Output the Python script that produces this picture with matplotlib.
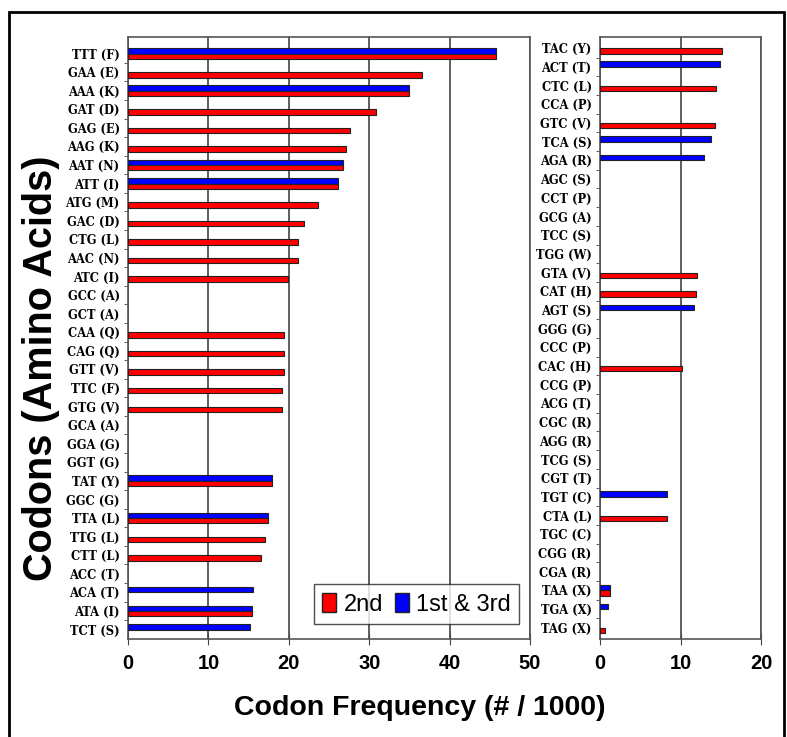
import numpy as np
import matplotlib.pyplot as plt
from matplotlib.patches import Rectangle, Patch

# codon frequency (# / 1000); None = no bar drawn
left_codons = ['TTT (F)', 'GAA (E)', 'AAA (K)', 'GAT (D)', 'GAG (E)', 'AAG (K)', 'AAT (N)', 'ATT (I)',
               'ATG (M)', 'GAC (D)', 'CTG (L)', 'AAC (N)', 'ATC (I)', 'GCC (A)', 'GCT (A)', 'CAA (Q)',
               'CAG (Q)', 'GTT (V)', 'TTC (F)', 'GTG (V)', 'GCA (A)', 'GGA (G)', 'GGT (G)', 'TAT (Y)',
               'GGC (G)', 'TTA (L)', 'TTG (L)', 'CTT (L)', 'ACC (T)', 'ACA (T)', 'ATA (I)', 'TCT (S)']
left_2nd = [45.8, 36.6, 34.9, 30.8, 27.6, 27.1, 26.75, 26.1, 23.6, 21.9, 21.1, 21.1, 19.9, None, None, 19.4,
            19.4, 19.4, 19.1, 19.1, None, None, None, 17.9, None, 17.4, 17.0, 16.5, None, None, 15.4, None]
left_13 = [45.8, None, 34.9, None, None, None, 26.75, 26.1, None, None, None, None, None, None, None, None,
           None, None, None, None, None, None, None, 17.9, None, 17.4, None, None, None, 15.5, 15.4, 15.2]

right_codons = ['TAC (Y)', 'ACT (T)', 'CTC (L)', 'CCA (P)', 'GTC (V)', 'TCA (S)', 'AGA (R)', 'AGC (S)',
                'CCT (P)', 'GCG (A)', 'TCC (S)', 'TGG (W)', 'GTA (V)', 'CAT (H)', 'AGT (S)', 'GGG (G)',
                'CCC (P)', 'CAC (H)', 'CCG (P)', 'ACG (T)', 'CGC (R)', 'AGG (R)', 'TCG (S)', 'CGT (T)',
                'TGT (C)', 'CTA (L)', 'TGC (C)', 'CGG (R)', 'CGA (R)', 'TAA (X)', 'TGA (X)', 'TAG (X)']
right_2nd = [15.1, None, 14.4, None, 14.3, None, None, None, None, None, None, None, 12.0, 11.9, None, None,
             None, 10.2, None, None, None, None, None, None, None, 8.3, None, None, None, 1.2, None, 0.6]
right_13 = [None, 14.9, None, None, None, 13.8, 12.9, None, None, None, None, None, None, None, 11.7, None,
            None, None, None, None, None, None, None, None, 8.3, None, None, None, None, 1.2, 1.0, None]

RED = '#ff0000'
BLUE = '#0000ff'
W, H = 787, 737
fig = plt.figure(figsize=(W / 100, H / 100), dpi=100)


def draw_panel(ax, codons, v2, v13, xmax, ylim):
    y = np.arange(len(codons))
    for vals, off, col in [(v13, -0.145, BLUE), (v2, 0.145, RED)]:
        idx = [i for i, v in enumerate(vals) if v is not None]
        ax.barh(y[idx] + off, [vals[i] for i in idx], height=0.29, color=col,
                edgecolor='#222222', linewidth=0.8, zorder=3)
    ax.set_xlim(0, xmax)
    ax.set_ylim(*ylim)
    ax.set_yticks(y)
    ax.set_yticklabels(codons, family='DejaVu Serif', fontweight='bold', fontsize=8.3)
    ax.set_yticks(np.arange(len(codons) - 1) + 0.5, minor=True)
    ax.tick_params(axis='y', which='major', length=0, pad=6)
    ax.tick_params(axis='y', which='minor', length=3, direction='out', color='#444444')
    ax.set_xticks(np.arange(0, xmax + 1, 10))
    ax.tick_params(axis='x', direction='inout', length=8, pad=7, color='#444444', labelsize=14.5)
    for lab in ax.get_xticklabels():
        lab.set_fontweight('bold')
        lab.set_family('Liberation Sans')
    ax.grid(axis='x', color='#333333', linewidth=1.1, zorder=1)
    ax.set_axisbelow(True)
    for s in ax.spines.values():
        s.set_color('#555555')
        s.set_linewidth(1.2)


ax1 = fig.add_axes([128 / W, 1 - 639 / H, 402 / W, 602 / H])
draw_panel(ax1, left_codons, left_2nd, left_13, 50, (31.51, -0.89))
ax2 = fig.add_axes([600 / W, 1 - 639 / H, 161 / W, 602 / H])
draw_panel(ax2, right_codons, right_2nd, right_13, 20, (31.6, -0.6))

handles = [Patch(facecolor=RED, edgecolor='#222222', label='2nd'),
           Patch(facecolor=BLUE, edgecolor='#222222', label='1st & 3rd')]
leg = ax1.legend(handles=handles, loc='lower right', bbox_to_anchor=(0.973, 0.025), ncol=2,
                 frameon=True, fancybox=False, borderaxespad=0, handlelength=0.6, handleheight=0.9,
                 handletextpad=0.3, columnspacing=0.5, borderpad=0.35,
                 prop={'family': 'Liberation Sans', 'size': 17})
leg.get_frame().set_edgecolor('#222222')
leg.get_frame().set_linewidth(1.0)
leg.set_zorder(5)

fig.text(420 / W, 1 - 708 / H, 'Codon Frequency (# / 1000)', ha='center', va='center',
         family='Liberation Sans', fontweight='bold', fontsize=20.5)
fig.text(41 / W, 1 - 368 / H, 'Codons (Amino Acids)', ha='center', va='center', rotation=90,
         family='Liberation Sans', fontweight='bold', fontsize=28.5)

# outer frame (bottom edge falls outside the picture)
fig.patches.append(Rectangle((9 / W, -0.05), 775 / W, 1.05 - 12 / H, transform=fig.transFigure,
                             fill=False, edgecolor='black', linewidth=2, clip_on=False))

fig.savefig('out.png', dpi=100)
